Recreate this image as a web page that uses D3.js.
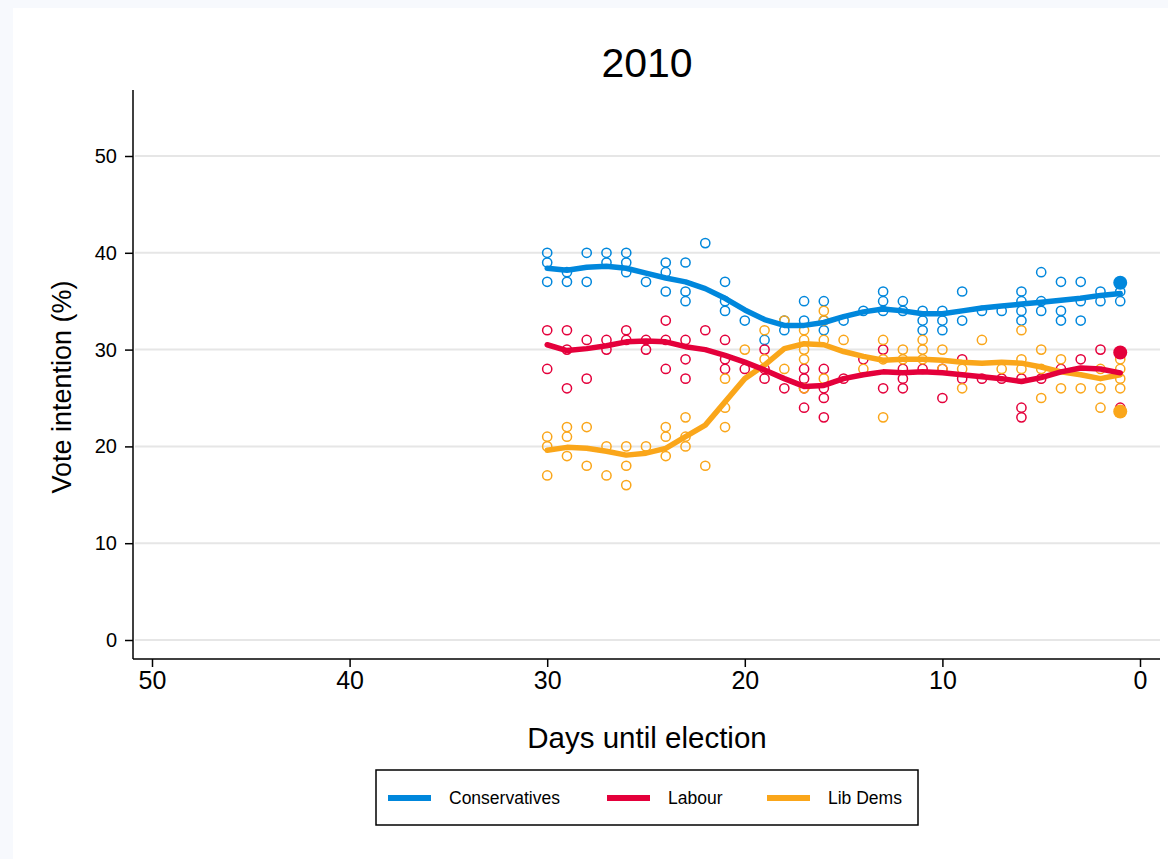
<!DOCTYPE html>
<html>
<head>
<meta charset="utf-8">
<script src="https://cdn.jsdelivr.net/npm/d3@7"></script>
<style>
  html, body { margin: 0; padding: 0; background: #f7f9fd; }
  svg { display: block; }
  text { font-family: "Liberation Sans", Arial, Helvetica, sans-serif; fill: #000; }
</style>
</head>
<body>
<svg id="chart" width="1168" height="859"></svg>
<script>
// Party names and colours
const parties = ["Conservatives", "Labour", "Lib Dems"];
const partyColors = ["#0087dc", "#e4003b", "#faa61a"];

// Axis ticks
const xTicks = [50, 40, 30, 20, 10, 0];
const yTicks = [0, 10, 20, 30, 40, 50];

// Individual polls: [days until election, vote share]
const conPolls = [
  [30,40],[30,39],[30,37],[29,38],[29,37],[28,40],[28,37],[27,40],[27,39],
  [26,40],[26,39],[26,38],[25,37],[24,39],[24,38],[24,36],[23,39],[23,36],[23,35],
  [22,41],[21,37],[21,35],[21,34],[20,33],[19,31],[18,33],[18,32],[17,35],[17,33],
  [16,35],[16,33],[16,32],[15,33],[14,34],[13,36],[13,35],[13,34],[12,35],[12,34],
  [11,34],[11,33],[11,32],[10,34],[10,33],[10,32],[9,36],[9,33],[8,34],[7,34],
  [6,36],[6,35],[6,34],[6,33],[5,38],[5,35],[5,34],[4,37],[4,34],[4,33],
  [3,37],[3,35],[3,33],[2,36],[2,35],[1,36],[1,35]
];
const labPolls = [
  [30,32],[30,28],[29,32],[29,30],[29,26],[28,31],[28,27],[27,31],[27,30],
  [26,32],[26,31],[25,31],[25,30],[24,33],[24,31],[24,28],[23,31],[23,29],[23,27],
  [22,32],[21,31],[21,29],[21,28],[20,28],[19,30],[19,28],[19,27],[18,26],
  [17,28],[17,27],[17,26],[17,24],[16,28],[16,26],[16,25],[16,23],[15,27],[14,29],
  [13,30],[13,26],[12,28],[12,27],[12,26],[11,28],[10,28],[10,25],[9,29],[9,27],
  [8,27],[7,27],[6,27],[6,24],[6,23],[5,27],[4,28],[3,29],[2,30],[1,24]
];
const ldPolls = [
  [30,21],[30,20],[30,17],[29,22],[29,21],[29,19],[28,22],[28,18],[27,20],[27,17],
  [26,20],[26,18],[26,16],[25,20],[24,22],[24,21],[24,19],[23,23],[23,21],[23,20],
  [22,18],[21,27],[21,24],[21,22],[20,30],[19,32],[19,29],[18,33],[18,28],
  [17,32],[17,31],[17,30],[17,29],[17,26],[16,34],[16,33],[16,31],[16,27],[15,31],
  [14,28],[13,31],[13,29],[13,23],[12,30],[12,29],[11,31],[11,30],[11,29],
  [10,30],[10,28],[9,28],[9,26],[8,31],[7,28],[6,32],[6,29],[6,28],
  [5,30],[5,28],[5,25],[4,29],[4,26],[3,26],[2,28],[2,26],[2,24],
  [1,29],[1,28],[1,27],[1,26]
];

// Smoothed trend, one value per day from 30 down to 1
const trendDays = [30,29,28,27,26,25,24,23,22,21,20,19,18,17,16,15,14,13,12,11,10,9,8,7,6,5,4,3,2,1];
const conTrend = [38.4,38.2,38.5,38.6,38.4,37.9,37.4,37.0,36.3,35.3,34.1,33.1,32.5,32.5,32.8,33.4,33.9,34.2,34.0,33.7,33.7,34.0,34.3,34.5,34.7,34.9,35.1,35.3,35.6,35.8];
const labTrend = [30.5,29.9,30.1,30.4,30.8,30.9,30.8,30.3,30.0,29.4,28.7,27.9,27.0,26.2,26.3,27.0,27.4,27.7,27.6,27.7,27.6,27.4,27.2,27.0,26.7,27.1,27.7,28.1,28.0,27.6];
const ldTrend  = [19.6,19.9,19.8,19.5,19.1,19.3,19.8,21.0,22.2,24.6,27.0,28.4,30.1,30.6,30.5,29.8,29.3,28.9,29.0,29.0,28.9,28.7,28.6,28.7,28.6,28.2,27.7,27.4,27.0,27.4];

// Election result, plotted at day 1
const resultDay = 1;
const resultValues = [36.9, 29.7, 23.6];

const polls = [conPolls, labPolls, ldPolls];
const trends = [conTrend, labTrend, ldTrend];

const svg = d3.select("#chart");

// White panel
svg.append("rect").attr("x", 13).attr("y", 8).attr("width", 1155).attr("height", 851).attr("fill", "#ffffff");

const x = d3.scaleLinear().domain([50, 0]).range([152, 1140]);
const y = d3.scaleLinear().domain([0, 50]).range([640, 156]);

const plotLeft = 133, plotRight = 1160, plotTop = 90, plotBottom = 659;

// Horizontal gridlines
svg.append("g").selectAll("line").data(yTicks).join("line")
  .attr("x1", plotLeft + 2).attr("x2", plotRight)
  .attr("y1", d => y(d)).attr("y2", d => y(d))
  .attr("stroke", "#e6e6e6").attr("stroke-width", 2);

// Y axis
const yAxis = svg.append("g").attr("transform", `translate(${plotLeft},0)`)
  .call(d3.axisLeft(y).tickValues(yTicks).tickSize(8).tickPadding(8));
yAxis.select(".domain").remove();
yAxis.selectAll(".tick line").attr("stroke", "#000").attr("stroke-width", 1.5);
yAxis.selectAll(".tick text").attr("font-size", 20).attr("font-family", "Liberation Sans, Arial, sans-serif").attr("fill", "#000");
svg.append("line").attr("x1", plotLeft).attr("x2", plotLeft).attr("y1", plotTop).attr("y2", plotBottom)
  .attr("stroke", "#000").attr("stroke-width", 1.5);

// X axis
const xAxis = svg.append("g").attr("transform", `translate(0,${plotBottom})`)
  .call(d3.axisBottom(x).tickValues(xTicks).tickSize(8).tickPadding(4));
xAxis.select(".domain").remove();
xAxis.selectAll(".tick line").attr("stroke", "#000").attr("stroke-width", 1.5);
xAxis.selectAll(".tick text").attr("font-size", 25).attr("font-family", "Liberation Sans, Arial, sans-serif").attr("fill", "#000");
svg.append("line").attr("x1", plotLeft).attr("x2", plotRight).attr("y1", plotBottom).attr("y2", plotBottom)
  .attr("stroke", "#000").attr("stroke-width", 1.5);

// Titles
svg.append("text").attr("x", 647).attr("y", 77).attr("text-anchor", "middle")
  .attr("font-size", 41).text("2010");
svg.append("text").attr("x", 647).attr("y", 748).attr("text-anchor", "middle")
  .attr("font-size", 29.5).text("Days until election");
svg.append("text").attr("transform", "translate(71,387) rotate(-90)").attr("text-anchor", "middle")
  .attr("font-size", 27).text("Vote intention (%)");

// Poll circles
polls.forEach((set, i) => {
  svg.append("g").selectAll("circle").data(set).join("circle")
    .attr("cx", d => x(d[0])).attr("cy", d => y(d[1])).attr("r", 4.6)
    .attr("fill", "none").attr("stroke", partyColors[i]).attr("stroke-width", 1.5);
});

// Trend lines (Lib Dems underneath, Conservatives on top)
const line = d3.line().x((d, j) => x(trendDays[j])).y(d => y(d));
[2, 1, 0].forEach(i => {
  svg.append("path").datum(trends[i]).attr("d", line)
    .attr("fill", "none").attr("stroke", partyColors[i]).attr("stroke-width", 5.5)
    .attr("stroke-linejoin", "round").attr("stroke-linecap", "round");
});

// Result markers
svg.append("g").selectAll("circle").data(resultValues).join("circle")
  .attr("cx", x(resultDay)).attr("cy", d => y(d)).attr("r", 7)
  .attr("fill", (d, i) => partyColors[i]);

// Legend
const legend = svg.append("g");
legend.append("rect").attr("x", 376).attr("y", 770).attr("width", 542).attr("height", 55)
  .attr("fill", "#fff").attr("stroke", "#000").attr("stroke-width", 1.5);
const legendSwatchX = [388, 607, 767];
parties.forEach((p, i) => {
  legend.append("line").attr("x1", legendSwatchX[i]).attr("x2", legendSwatchX[i] + 43)
    .attr("y1", 798).attr("y2", 798).attr("stroke", partyColors[i]).attr("stroke-width", 6);
  legend.append("text").attr("x", legendSwatchX[i] + 61).attr("y", 804).attr("font-size", 17.5).text(p);
});
</script>
</body>
</html>
